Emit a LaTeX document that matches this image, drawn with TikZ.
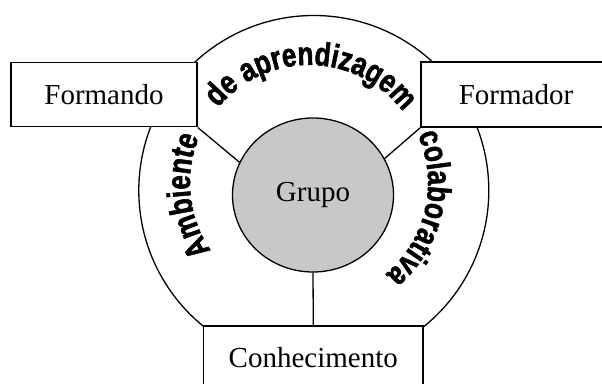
\documentclass[tikz,border=0pt]{standalone}
\usepackage{fontspec}
\setmainfont{Liberation Serif}
\newfontfamily\arcfont[FakeStretch=0.79,FakeBold=1.6]{Liberation Sans Bold}
\usetikzlibrary{shapes.geometric,decorations.text}
\definecolor{grupogray}{RGB}{200,200,202}
\newcommand{\arctext}{\arcfont\fontsize{33}{33}\selectfont}

\begin{document}
\begin{tikzpicture}[x=1pt,y=1pt,line width=1.3pt,
  caixa/.style={draw,fill=white,inner sep=0pt,line width=1.6pt,
    font=\fontsize{29}{29}\selectfont},
  arco/.style={decorate,decoration={text along path,text align=center,text={|\arctext|#1}}}]
\clip (0,0) rectangle (602,383);
\coordinate (c) at (309,200);
\node[circle,draw,minimum size=350,inner sep=0pt] (anel) at (313.8,192.5) {};
\node[ellipse,draw,fill=grupogray,minimum width=161,minimum height=154,inner sep=0pt,
  font=\fontsize{29}{29}\selectfont] (grupo) at (313,188) {Grupo};
\node[caixa,minimum width=186,minimum height=64] (formando) at (104,288.3) {Formando};
\node[caixa,minimum width=190,minimum height=65] (formador) at (516,288.5) {Formador};
\node[caixa,minimum width=219.5,minimum height=64] (conhec) at (313.3,25) {Conhecimento};
\draw (formando.south east) -- (grupo.156);
\draw (formador.south west) -- (grupo.27);
\draw (grupo.south) -- (conhec.north);
% texto curvo
\path[arco=Ambiente] ([shift={(222:119)}]c) arc (222:150:119);
\path[arco=de aprendizagem] ([shift={(160:118)}]c) arc (160:17.6:118);
\path[arco=colaborativa] ([shift={(37:119)}]c) arc (37:-63:119);
\end{tikzpicture}
\end{document}
